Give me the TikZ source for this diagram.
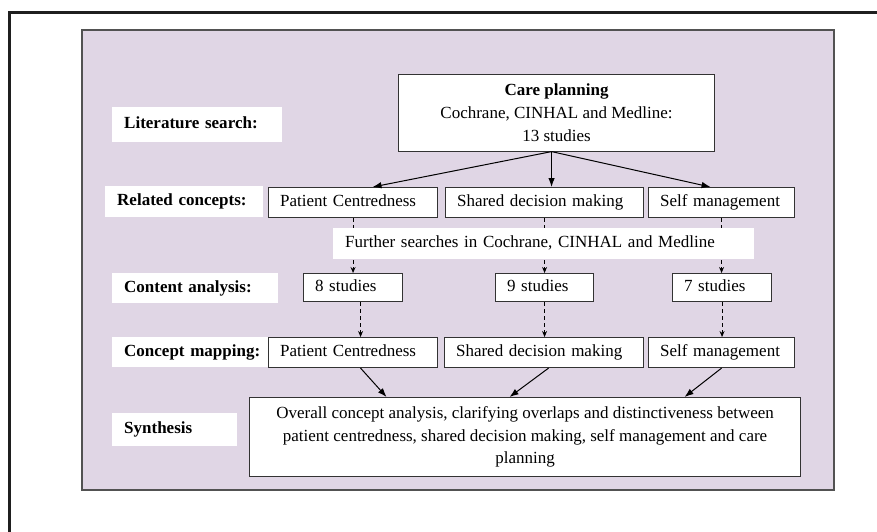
\documentclass[tikz,border=0pt]{standalone}
\usepackage{fontspec}
\setmainfont{Liberation Serif}
\usetikzlibrary{arrows.meta}
\definecolor{bgpurple}{HTML}{E0D6E5}
\definecolor{edgegray}{HTML}{333333}
\begin{document}
\begin{tikzpicture}[x=1pt,y=-1pt,
  font=\fontsize{17}{22.7}\selectfont,
  lbl/.style={fill=white, anchor=north west, inner xsep=12pt, inner ysep=0pt, align=left,
    font=\fontsize{17}{22.7}\selectfont\bfseries, text height=12pt, text depth=4pt},
  plainlbl/.style={lbl, font=\fontsize{17}{22.7}\selectfont},
  cbox/.style={draw=edgegray, line width=1.1pt, fill=white, anchor=north west, inner xsep=11.5pt,
    inner ysep=0pt, align=left, text height=12pt, text depth=4pt},
  bigbox/.style={draw=edgegray, line width=1.1pt, fill=white, anchor=north west, inner sep=0pt, align=center},
  arr/.style={draw=black, line width=1pt, -{Latex[length=9pt,width=6.5pt]}},
  darr/.style={draw=black, line width=0.9pt, dash pattern=on 4pt off 3pt, -{Stealth[length=6pt,width=5pt]}}
]
\useasboundingbox (0,0) rectangle (877,531);
\draw[line width=3pt, draw=black!88] (9,545) -- (9,12) -- (890,12);
\filldraw[fill=bgpurple, draw=edgegray!85, line width=1.2pt] (82,30) rectangle (834,490);

% row labels
\node[lbl, text width=146pt, minimum height=35pt] (lit) at (112,107) {Literature search:};
\node[lbl, text width=134pt, minimum height=31pt] (rel) at (105,186) {Related concepts:};
\node[lbl, text width=142pt, minimum height=30pt] (con) at (112,273) {Content analysis:};
\node[lbl, text width=150pt, minimum height=30pt] (map) at (112,337) {Concept mapping:};
\node[lbl, text width=101pt, minimum height=33pt] (syn) at (112,413) {Synthesis};

% top box
\node[bigbox, minimum width=316pt, minimum height=77pt] (cp) at (398,73.5)
  {\textbf{Care planning}\\Cochrane, CINHAL and Medline:\\13 studies};

% related concepts
\node[cbox, text width=146pt, minimum height=30pt] (pc1) at (268,187) {Patient Centredness};
\node[cbox, text width=175pt, minimum height=30pt] (sd1) at (445,187) {Shared decision making};
\node[cbox, text width=123pt, minimum height=30pt] (sm1) at (648,187) {Self management};

% studies
\node[cbox, text width=76pt, minimum height=28pt] (s8) at (303,273) {8 studies};
\node[cbox, text width=75pt, minimum height=28pt] (s9) at (495,273) {9 studies};
\node[cbox, text width=76pt, minimum height=28pt] (s7) at (672,273) {7 studies};

% concept mapping (drawn after the label, so it covers the label's right end)
\node[cbox, text width=146pt, minimum height=30pt] (pc2) at (268,337) {Patient Centredness};
\node[cbox, text width=176pt, minimum height=30pt] (sd2) at (444,337) {Shared decision making};
\node[cbox, text width=123pt, minimum height=30pt] (sm2) at (648,337) {Self management};

% synthesis box
\node[bigbox, minimum width=551pt, minimum height=79pt] (sy) at (249,397)
  {Overall concept analysis, clarifying overlaps and distinctiveness between\\
   patient centredness, shared decision making, self management and care\\
   planning};

% arrows from care planning
\draw[arr] ([xshift=-5pt]cp.south) -- ([xshift=19.5pt]pc1.north);
\draw[arr] ([xshift=-5pt]cp.south) -- ([xshift=7pt]sd1.north);
\draw[arr] ([xshift=-5pt]cp.south) -- ([xshift=-11pt]sm1.north);

% dashed arrows
\draw[darr] (pc1.south) -- (pc1.south |- s8.north);
\draw[darr] (sd1.south) -- (sd1.south |- s9.north);
\draw[darr] (sm1.south) -- (sm1.south |- s7.north);
\draw[darr] ([xshift=7.5pt]s8.south) -- ([xshift=7.5pt]s8.south |- pc2.north);
\draw[darr] (s9.south) -- (s9.south |- sd2.north);
\draw[darr] (s7.south) -- (s7.south |- sm2.north);

% arrows to synthesis
\draw[arr] ([xshift=7.5pt]pc2.south) -- ([xshift=-138.5pt]sy.north);
\draw[arr] ([xshift=4.5pt]sd2.south) -- ([xshift=-15.5pt]sy.north);
\draw[arr] (sm2.south) -- ([xshift=159.5pt]sy.north);

% further searches label (over the dashed lines)
\node[plainlbl, text width=397pt, minimum height=31pt] (fs) at (333,228)
  {Further searches in Cochrane, CINHAL and Medline};
\end{tikzpicture}
\end{document}
